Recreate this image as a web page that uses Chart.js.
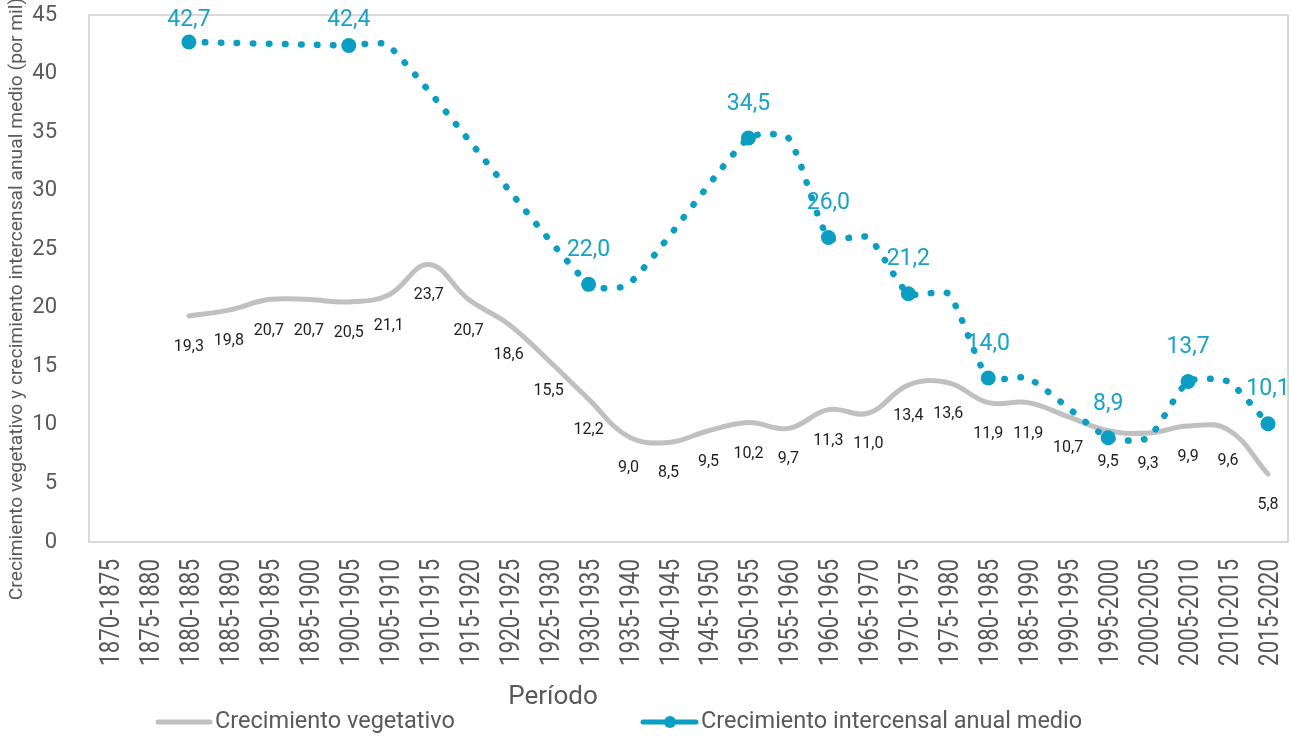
<!DOCTYPE html>
<html>
<head>
<meta charset="utf-8">
<script src="https://cdn.jsdelivr.net/npm/chart.js@4.4.1/dist/chart.umd.min.js"></script>
<style>
html,body{margin:0;padding:0;background:#fff;overflow:hidden;}
canvas{display:block;}
</style>
</head>
<body>
<canvas id="c" width="1291" height="742" style="width:1291px;height:742px;"></canvas>
<script>
// ---- data ----
const periods = ['1870-1875','1875-1880','1880-1885','1885-1890','1890-1895','1895-1900','1900-1905','1905-1910','1910-1915','1915-1920','1920-1925','1925-1930','1930-1935','1935-1940','1940-1945','1945-1950','1950-1955','1955-1960','1960-1965','1965-1970','1970-1975','1975-1980','1980-1985','1985-1990','1990-1995','1995-2000','2000-2005','2005-2010','2010-2015','2015-2020'];
const vegetativo = [null,null,19.3,19.8,20.7,20.7,20.5,21.1,23.7,20.7,18.6,15.5,12.2,9.0,8.5,9.5,10.2,9.7,11.3,11.0,13.4,13.6,11.9,11.9,10.7,9.5,9.3,9.9,9.6,5.8];
const intercensal = [null,null,42.7,null,null,null,42.4,42.4,null,null,null,null,22.0,22.0,null,null,34.5,34.5,26.0,26.0,21.2,21.2,14.0,14.0,null,8.9,8.9,13.7,13.7,10.1];
const censusPeriods = ['1880-1885','1900-1905','1930-1935','1950-1955','1960-1965','1970-1975','1980-1985','1995-2000','2005-2010','2015-2020'];
const seriesNames = ['Crecimiento vegetativo','Crecimiento intercensal anual medio'];
const yTitle = 'Crecimiento vegetativo y crecimiento intercensal anual medio (por mil)';
const xTitle = 'Período';

// ---- styles ----
const BLUE = '#0a9ec2', BLUE_TXT = '#18a2c6', GRAY = '#c0c0c0', AXIS_TXT = '#595959', LBL_TXT = '#1e1e1e';
const FONT = 'Roboto, "Open Sans", sans-serif';
const fmt = v => v.toFixed(1).replace('.', ',');
const isCensus = i => censusPeriods.includes(periods[i]);

const textPlugin = {
  id: 'textPlugin',
  beforeDraw(chart) {
    const ctx = chart.ctx;
    ctx.save(); ctx.fillStyle = '#fff'; ctx.fillRect(0, 0, chart.width, chart.height); ctx.restore();
  },
  beforeDatasetsDraw(chart) {
    const {ctx, chartArea: a} = chart;
    ctx.save();
    ctx.strokeStyle = '#d0d0d0'; ctx.lineWidth = 1.6;
    ctx.strokeRect(a.left, a.top, a.right - a.left, a.bottom - a.top);
    ctx.restore();
  },
  afterDatasetsDraw(chart) {
    const ctx = chart.ctx;
    ctx.save();
    const m0 = chart.getDatasetMeta(1);
    ctx.font = `16px ${FONT}`; ctx.fillStyle = LBL_TXT; ctx.textAlign = 'center'; ctx.textBaseline = 'middle';
    vegetativo.forEach((v, i) => { if (v == null) return; const p = m0.data[i]; ctx.fillText(fmt(v), p.x, p.y + 31); });
    const m1 = chart.getDatasetMeta(0);
    ctx.font = `23px ${FONT}`; ctx.fillStyle = BLUE_TXT;
    intercensal.forEach((v, i) => { if (v == null || !isCensus(i)) return; const p = m1.data[i]; ctx.fillText(fmt(v), p.x, Math.max(p.y - 34, 20)); });
    ctx.restore();
  },
  afterDraw(chart) {
    const ctx = chart.ctx;
    const xs = chart.scales.x;
    ctx.save();
    ctx.fillStyle = AXIS_TXT; ctx.font = `28px ${FONT}`; ctx.textAlign = 'right'; ctx.textBaseline = 'alphabetic';
    periods.forEach((p, i) => {
      const x = xs.getPixelForValue(i);
      ctx.save(); ctx.translate(x, 559); ctx.rotate(-Math.PI / 2); ctx.scale(0.8, 1);
      ctx.fillText(p, 0, 10); ctx.restore();
    });
    ctx.save(); ctx.translate(18, 299); ctx.rotate(-Math.PI / 2); ctx.scale(1.1, 1);
    ctx.font = `17.5px ${FONT}`; ctx.textAlign = 'center'; ctx.textBaseline = 'middle'; ctx.fillText(yTitle, 0, 0); ctx.restore();
    ctx.font = `26px ${FONT}`; ctx.textAlign = 'center'; ctx.textBaseline = 'middle'; ctx.fillText(xTitle, 553, 697);
    const ly = 722;
    ctx.lineCap = 'round';
    ctx.strokeStyle = GRAY; ctx.lineWidth = 5;
    ctx.beginPath(); ctx.moveTo(158, ly); ctx.lineTo(210, ly); ctx.stroke();
    ctx.strokeStyle = BLUE;
    ctx.beginPath(); ctx.moveTo(643, ly); ctx.lineTo(696, ly); ctx.stroke();
    ctx.fillStyle = BLUE; ctx.beginPath(); ctx.arc(670, ly, 6, 0, Math.PI * 2); ctx.fill();
    ctx.fillStyle = AXIS_TXT; ctx.font = `23.5px ${FONT}`; ctx.textAlign = 'left'; ctx.textBaseline = 'middle';
    ctx.fillText(seriesNames[0], 215, ly);
    ctx.fillText(seriesNames[1], 701, ly);
    ctx.restore();
  }
};

new Chart(document.getElementById('c'), {
  type: 'line',
  data: {
    labels: periods,
    datasets: [
      {
        label: seriesNames[1], data: intercensal, order: 0, spanGaps: true,
        borderColor: BLUE, backgroundColor: BLUE, borderWidth: 6.5,
        borderDash: [0.5, 15.5], borderCapStyle: 'round', borderJoinStyle: 'round',
        tension: 0.2,
        pointRadius: ctx => isCensus(ctx.dataIndex) ? 7.5 : 0,
        pointBackgroundColor: BLUE, pointBorderWidth: 0, pointHoverRadius: 0
      },
      {
        label: seriesNames[0], data: vegetativo, order: 1, spanGaps: false,
        borderColor: GRAY, borderWidth: 5, borderCapStyle: 'round', borderJoinStyle: 'round',
        tension: 0.4, pointRadius: 0, pointHoverRadius: 0
      }
    ]
  },
  options: {
    responsive: false, animation: false, devicePixelRatio: 1,
    layout: { autoPadding: false, padding: { top: 15, right: 3, left: 0, bottom: 0 } },
    plugins: { legend: { display: false }, tooltip: { enabled: false } },
    scales: {
      x: {
        offset: true, grid: { display: false }, border: { display: false },
        ticks: { display: false },
        afterFit(s) { s.height = 200; s.paddingLeft = 0; s.paddingRight = 0; }
      },
      y: {
        min: 0, max: 45,
        grid: { display: false }, border: { display: false },
        ticks: { stepSize: 5, padding: 24, color: AXIS_TXT, font: { family: FONT, size: 22 } },
        afterFit(s) { s.width = 89; s.paddingTop = 0; s.paddingBottom = 0; }
      }
    }
  },
  plugins: [textPlugin]
});
</script>
</body>
</html>
